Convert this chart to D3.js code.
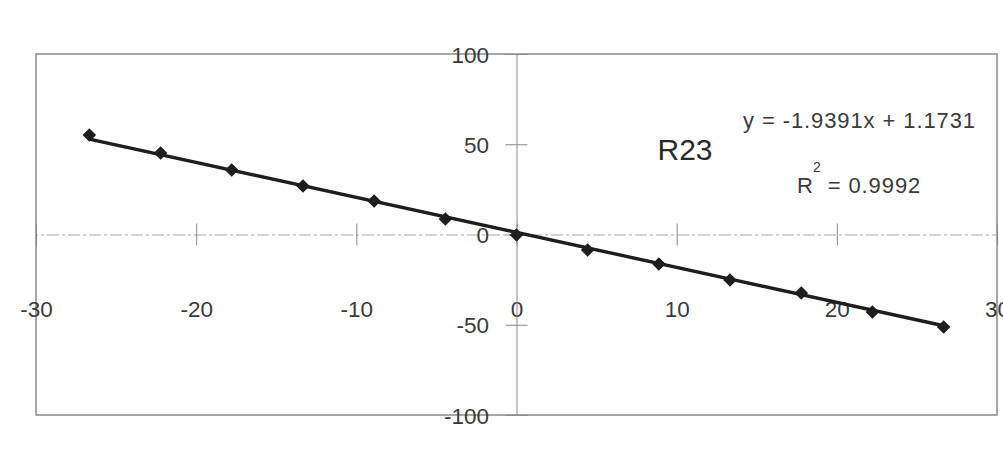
<!DOCTYPE html>
<html>
<head>
<meta charset="utf-8">
<script src="https://cdn.jsdelivr.net/npm/d3@7"></script>
<style>
  html, body { margin: 0; padding: 0; background: #fff; }
  svg { display: block; font-family: "Liberation Sans", Arial, sans-serif; }
</style>
</head>
<body>
<svg id="chart" width="1003" height="459"></svg>
<script>
// Measured series (x, y) for R23
const xValues = [-26.67, -22.22, -17.78, -13.33, -8.89, -4.44, 0, 4.44, 8.89, 13.33, 17.78, 22.22, 26.67];
const yValues = [55.1, 45.2, 35.7, 26.9, 18.6, 8.6, -0.3, -8.6, -16.3, -25.2, -32.4, -42.9, -51.2];

// Linear trendline and its fit statistics
const slope = -1.9391;
const intercept = 1.1731;
const rSquared = 0.9992;
const seriesName = "R23";

// Axis ticks
const xTicks = [-30, -20, -10, 0, 10, 20, 30];
const yTicks = [-100, -50, 0, 50, 100];

const svg = d3.select("#chart");
const x = d3.scaleLinear().domain([-30, 30]).range([36, 997]);
const y = d3.scaleLinear().domain([-100, 100]).range([415, 54]);

const textColor = "#3a3a3a";
const signed = d => (d < 0 ? "-" + Math.abs(d) : String(d));

// Plot area border
svg.append("rect")
  .attr("x", x(-30)).attr("y", y(100))
  .attr("width", x(30) - x(-30)).attr("height", y(-100) - y(100))
  .attr("fill", "none").attr("stroke", "#8a8a8a").attr("stroke-width", 1.5);

// Horizontal axis through y = 0
const xAxis = svg.append("g")
  .attr("transform", `translate(0,${y(0)})`)
  .call(d3.axisBottom(x).tickValues(xTicks).tickSizeOuter(0).tickSize(11));
xAxis.select(".domain").attr("stroke", "#a8a8a8").attr("stroke-width", 1.2).attr("stroke-dasharray", "12,3,3,3");
xAxis.selectAll(".tick line").attr("y1", -11).attr("y2", 11).attr("stroke", "#8a8a8a");
xAxis.selectAll(".tick text")
  .attr("y", 317 - y(0)).attr("dy", 0)
  .attr("font-size", 22.5).attr("fill", textColor)
  .text(signed);

// Vertical axis through x = 0
const yAxis = svg.append("g")
  .attr("transform", `translate(${x(0)},0)`)
  .call(d3.axisLeft(y).tickValues(yTicks).tickSizeOuter(0).tickSize(11));
yAxis.select(".domain").attr("stroke", "#8a8a8a").attr("stroke-width", 1);
yAxis.selectAll(".tick line").attr("x1", -11).attr("x2", 11).attr("stroke", "#8a8a8a");
yAxis.selectAll(".tick text")
  .attr("x", 489 - x(0)).attr("dy", "0.36em")
  .attr("font-size", 22.5).attr("fill", textColor)
  .text(signed);

// Trendline across the data range
const xExtent = d3.extent(xValues);
const trend = xExtent.map(v => [v, slope * v + intercept]);
svg.append("path")
  .datum(trend)
  .attr("d", d3.line().x(d => x(d[0])).y(d => y(d[1])))
  .attr("fill", "none").attr("stroke", "#1e1e1e").attr("stroke-width", 3.4);

// Diamond markers (squares turned 45 degrees)
const points = xValues.map((v, i) => ({ x: v, y: yValues[i] }));
svg.append("g").selectAll("path")
  .data(points)
  .join("path")
  .attr("transform", d => `translate(${x(d.x)},${y(d.y)}) rotate(45)`)
  .attr("d", d3.symbol().type(d3.symbolSquare).size(92))
  .attr("fill", "#1e1e1e");

// Series label and fit annotations
svg.append("text")
  .attr("x", 685).attr("y", 160)
  .attr("text-anchor", "middle")
  .attr("font-size", 30).attr("fill", "#2a2a2a")
  .text(seriesName);

const fmt = v => (v < 0 ? "-" : "") + Math.abs(v).toFixed(4);
svg.append("text")
  .attr("x", 743).attr("y", 128)
  .attr("font-size", 22).attr("letter-spacing", 0.9).attr("fill", textColor)
  .text(`y = ${fmt(slope)}x + ${fmt(intercept)}`);

const r2 = svg.append("text")
  .attr("x", 797).attr("y", 193)
  .attr("font-size", 22).attr("fill", textColor);
r2.append("tspan").text("R");
r2.append("tspan").attr("dy", -21).attr("font-size", 14).text("2");
r2.append("tspan").attr("dy", 21).attr("letter-spacing", 0.9).text(` = ${rSquared.toFixed(4)}`);
</script>
</body>
</html>
